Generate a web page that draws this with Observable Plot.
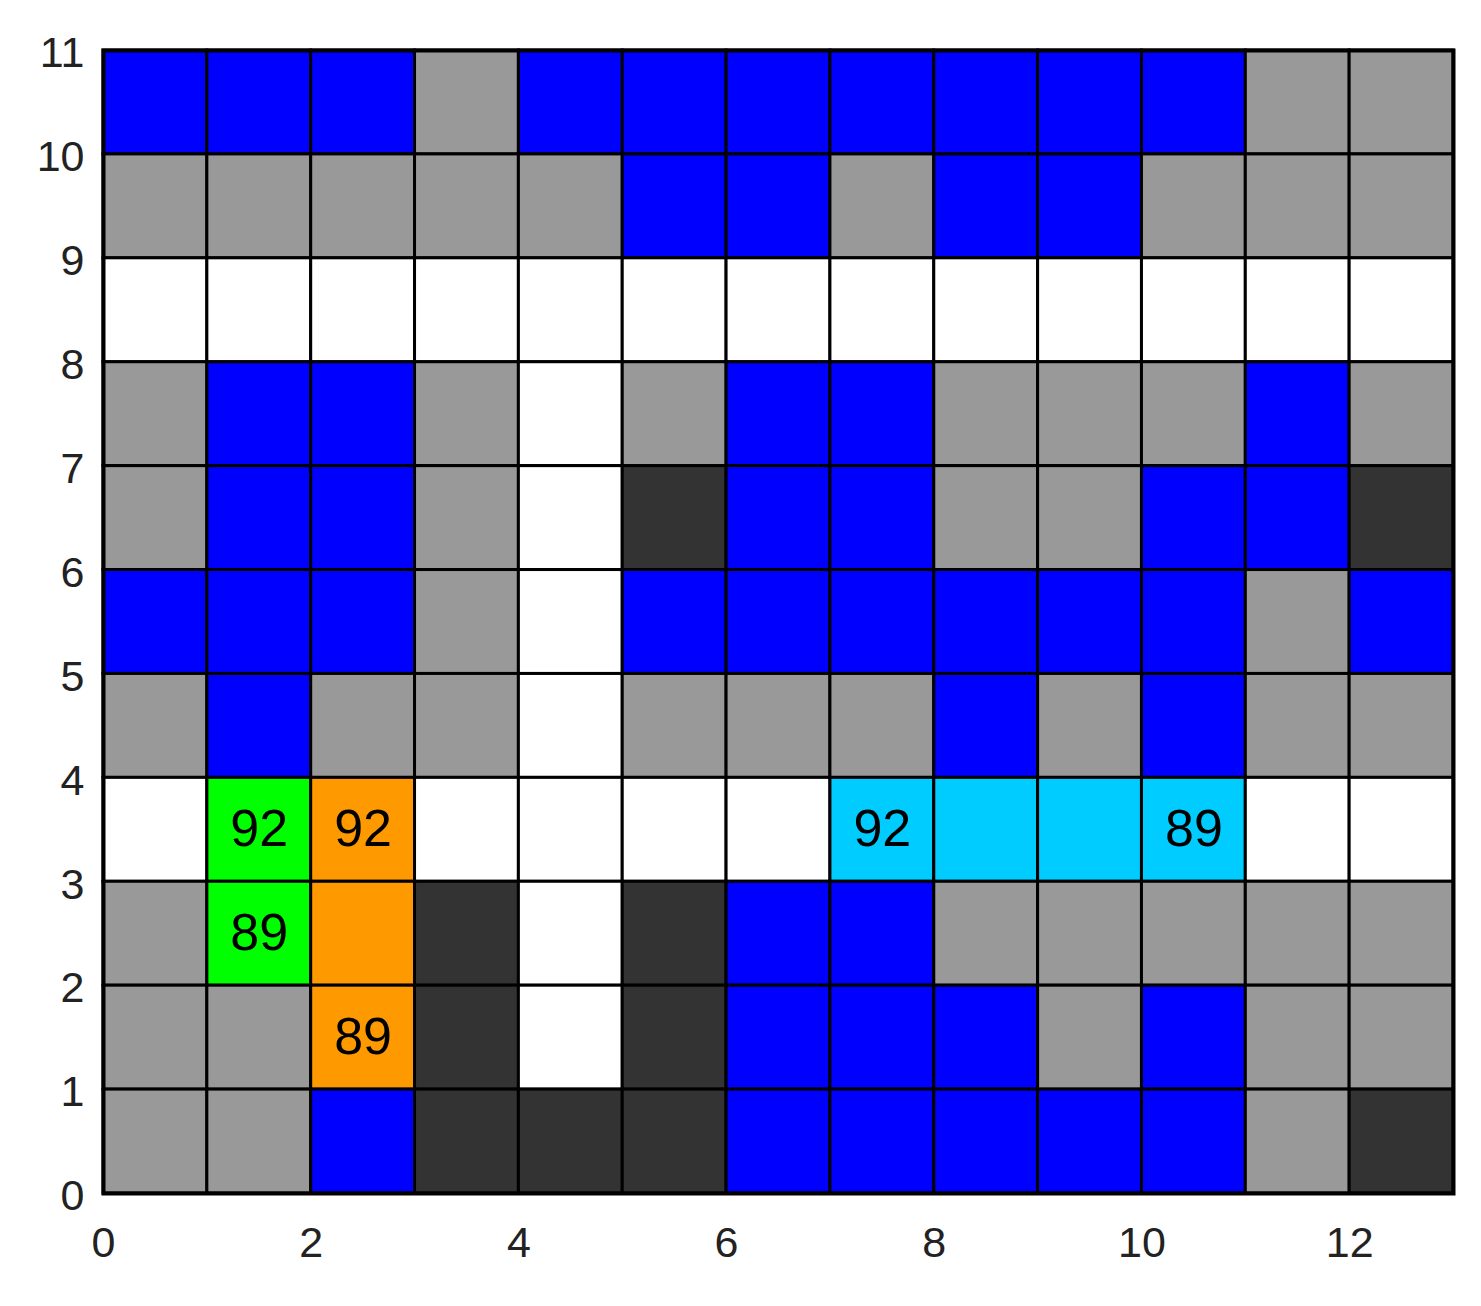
<!DOCTYPE html>
<html>
<head>
<meta charset="utf-8">
<script src="https://cdn.jsdelivr.net/npm/d3@7"></script>
<script src="https://cdn.jsdelivr.net/npm/@observablehq/plot@0.6"></script>
<style>
  html, body { margin: 0; padding: 0; background: #fff; }
</style>
</head>
<body>
<div id="chart"></div>
<script>
// Cell codes, top row (y 10-11) first, bottom row (y 0-1) last
const cellRows = [
  ["B","B","B","G","B","B","B","B","B","B","B","G","G"],
  ["G","G","G","G","G","B","B","G","B","B","G","G","G"],
  ["W","W","W","W","W","W","W","W","W","W","W","W","W"],
  ["G","B","B","G","W","G","B","B","G","G","G","B","G"],
  ["G","B","B","G","W","D","B","B","G","G","B","B","D"],
  ["B","B","B","G","W","B","B","B","B","B","B","G","B"],
  ["G","B","G","G","W","G","G","G","B","G","B","G","G"],
  ["W","L","O","W","W","W","W","C","C","C","C","W","W"],
  ["G","L","O","D","W","D","B","B","G","G","G","G","G"],
  ["G","G","O","D","W","D","B","B","B","G","B","G","G"],
  ["G","G","B","D","D","D","B","B","B","B","B","G","D"]
];
const codes  = ["B","G","W","D","L","O","C"];
const colors = ["#0000ff","#999999","#ffffff","#333333","#00ff00","#ff9900","#00ccff"];

const labelCols  = [1, 2, 7, 10, 1, 2];
const labelRows  = [3, 3, 3, 3, 2, 1];
const labelTexts = ["92","92","92","89","89","89"];

const xTicks = [0, 2, 4, 6, 8, 10, 12];
const yTicks = [0, 1, 2, 3, 4, 5, 6, 7, 8, 9, 10, 11];

const nRows = cellRows.length;
const cells = [];
cellRows.forEach((row, i) => {
  const y = nRows - 1 - i;
  row.forEach((code, x) => cells.push({x1: x, x2: x + 1, y1: y, y2: y + 1, code}));
});
const labels = labelTexts.map((t, i) => ({col: labelCols[i], row: labelRows[i], text: t}));

const chart = Plot.plot({
  width: 1481,
  height: 1306,
  marginLeft: 103,
  marginRight: 28,
  marginTop: 50,
  marginBottom: 113,
  style: {fontFamily: "Arial, 'Liberation Sans', sans-serif", fontSize: "43px", color: "#222", background: "#fff"},
  x: {domain: [0, 13], ticks: xTicks, tickSize: 0, tickPadding: 33, label: null},
  y: {domain: [0, 11], ticks: yTicks, tickSize: 0, tickPadding: 19, label: null},
  color: {type: "ordinal", domain: codes, range: colors},
  marks: [
    Plot.axisY({ticks: yTicks, tickSize: 0, tickPadding: 19, dy: 3, label: null}),
    Plot.axisX({ticks: xTicks, tickSize: 0, tickPadding: 33, label: null}),
    Plot.rect(cells, {x1: "x1", x2: "x2", y1: "y1", y2: "y2", fill: "code", stroke: "black", strokeWidth: 3}),
    Plot.text(labels, {x: d => d.col + 0.5, y: d => d.row + 0.5, text: "text", fontSize: 52, fill: "black"}),
    Plot.frame({stroke: "black", strokeWidth: 4})
  ]
});
document.getElementById("chart").appendChild(chart);
</script>
</body>
</html>
